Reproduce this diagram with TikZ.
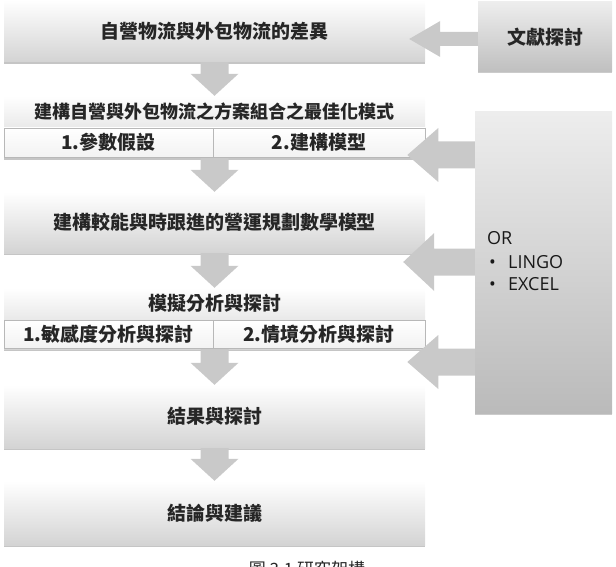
\documentclass[tikz,border=0pt]{standalone}
\usepackage{fontspec}
\newfontfamily\cjk{Noto Sans CJK TC}
\newfontfamily\latinf{Open Sans}
\usetikzlibrary{calc,shadows}
\begin{document}
\begin{tikzpicture}[x=1pt,y=-1pt,
  cjkfont/.style={font=\cjk\bfseries\fontsize{19}{21}\selectfont, text=black!85},
  mainbox/.style={draw=none, top color=white, bottom color=black!17, inner sep=0pt,
    minimum width=421pt, cjkfont,
    drop shadow={shadow xshift=0pt, shadow yshift=-1.6pt, opacity=0.5, fill=black!45}},
  rowbox/.style={draw=black!28, line width=0.6pt, top color=white, bottom color=black!5, inner sep=0pt,
    minimum height=29pt, cjkfont,
    drop shadow={shadow xshift=0pt, shadow yshift=-1.2pt, opacity=0.4, fill=black!45}},
  sidebox/.style={draw=none, top color=black!7, bottom color=black!25, inner sep=0pt, cjkfont,
    drop shadow={shadow xshift=0pt, shadow yshift=-1.5pt, opacity=0.45, fill=black!45}},
  plaintext/.style={cjkfont, inner sep=0pt},
  ortext/.style={font=\latinf\fontsize{18}{22}\selectfont, text=black!90, inner sep=0pt, anchor=base west},
  blockarrow/.style={fill=black!21, draw=none}
]
\useasboundingbox (0,0) rectangle (616,567);

% main column
\node[mainbox, minimum height=62pt] (A) at (214.5,31) {自營物流與外包物流的差異};

\node[mainbox, minimum height=62pt] (B) at (214.5,127) {};
\node[plaintext, font=\cjk\bfseries\fontsize{18}{20}\selectfont] (Bt) at (214.5,112) {建構自營與外包物流之方案組合之最佳化模式};
\node[rowbox, minimum width=209pt] (B1) at (108.5,142.5) {1.參數假設};
\node[rowbox, minimum width=212pt] (B2) at (319,142.5) {2.建構模型};

\node[mainbox, minimum height=61pt] (C) at (214.5,222.5) {建構較能與時跟進的營運規劃數學模型};

\node[mainbox, minimum height=61pt] (D) at (214.5,318.5) {};
\node[plaintext] (Dt) at (214.5,303) {模擬分析與探討};
\node[rowbox, minimum width=209pt, minimum height=28pt] (D1) at (108.5,334) {1.敏感度分析與探討};
\node[rowbox, minimum width=212pt, minimum height=28pt] (D2) at (319,334) {2.情境分析與探討};

\node[mainbox, minimum height=63pt] (E) at (214.5,416.5) {結果與探討};
\node[mainbox, minimum height=64pt] (F) at (214.5,513) {結論與建議};

% right side
\node[sidebox, minimum width=134pt, minimum height=70pt] (Lit) at (545,37) {文獻探討};
\node[sidebox, minimum width=137pt, minimum height=301pt, bottom color=black!27] (OR) at (543.5,262.5) {};
\node[ortext] (or0) at (487,244) {OR};
\node[ortext] (bu1) at (489,268) {•};
\node[ortext] (or1) at (508,268) {LINGO};
\node[ortext] (bu2) at (489,290) {•};
\node[ortext] (or2) at (508,290) {EXCEL};

% caption (cut by the page edge, as in the reference)
\node[font=\cjk\fontsize{17}{17}\selectfont, text=black!85, anchor=base, inner sep=0pt] (cap) at (307,575) {圖 3.1 研究架構};

% down block arrows
\newcommand\dnblock[2]{%
  \path[blockarrow] let \p1=(#1.south), \p2=(#2.north) in
    ({\x1-14pt},\y1) -- ({\x1+14pt},\y1) -- ({\x1+14pt},{\y2+22pt}) -- ({\x1+24pt},{\y2+22pt})
    -- (\x1,\y2) -- ({\x1-24pt},{\y2+22pt}) -- ({\x1-14pt},{\y2+22pt}) -- cycle;}
\dnblock{A}{B}
\dnblock{B}{C}
\dnblock{C}{D}
\dnblock{D}{E}
\dnblock{E}{F}

% left block arrows: source, target, y(px), shaft half, head half, overlap into target
\newcommand\lfblock[6]{%
  \path[blockarrow] let \p1=(#1.west), \p2=(#2.east), \p3=(0,#3) in
    (\x1,{\y3+#4pt}) -- ({\x2-#6pt+31pt},{\y3+#4pt}) -- ({\x2-#6pt+31pt},{\y3+#5pt})
    -- ({\x2-#6pt},\y3) -- ({\x2-#6pt+31pt},{\y3-#5pt}) -- ({\x2-#6pt+31pt},{\y3-#4pt})
    -- (\x1,{\y3-#4pt}) -- cycle;}
\lfblock{Lit}{A}{39}{7}{18}{16}
\lfblock{OR}{B2}{155}{13.5}{27}{18}
\lfblock{OR}{C}{262}{13.5}{29}{22}
\lfblock{OR}{D2}{362}{13.5}{27}{18}
\end{tikzpicture}
\end{document}
